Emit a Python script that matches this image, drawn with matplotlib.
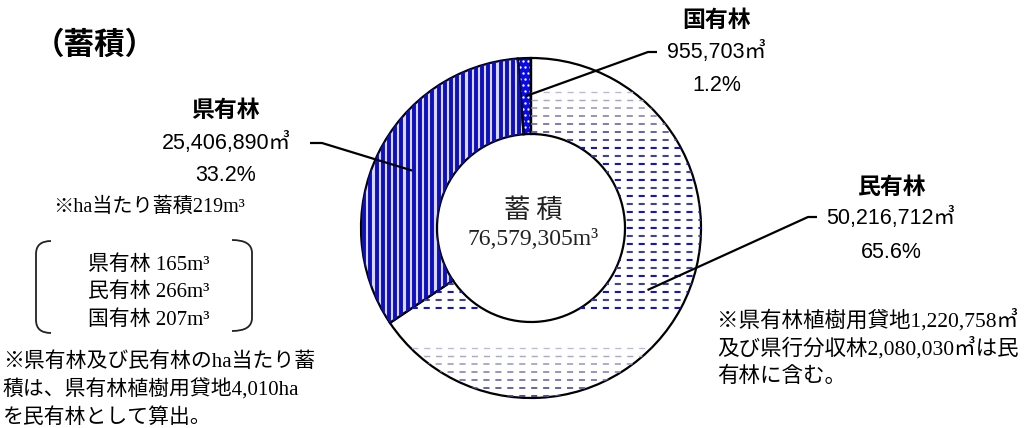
import numpy as np
import matplotlib
matplotlib.use("Agg")
import matplotlib.pyplot as plt
from matplotlib.path import Path
from matplotlib.patches import PathPatch

# ---------------- data ----------------
categories = ['民有林', '県有林', '国有林']
volumes = [50216712, 25406890, 955703]
volume_labels = ['50,216,712㎥', '25,406,890㎥', '955,703㎥']
share_labels = ['65.6%', '33.2%', '1.2%']
total_label = '76,579,305m³'
center_title = '蓄 積'
chart_title = '（蓄積）'
avg_note = '※ha当たり蓄積219m³'
per_ha_names = ['県有林', '民有林', '国有林']
per_ha_values = [165, 266, 207]
left_note = ['※県有林及び民有林のha当たり蓄', '積は、県有林植樹用貸地4,010ha', 'を民有林として算出。']
right_note = ['※県有林植樹用貸地1,220,758㎥', '及び県行分収林2,080,030㎥は民', '有林に含む。']

W, H = 1026, 428
plt.rcParams['lines.scale_dashes'] = False

fig = plt.figure(figsize=(W / 100, H / 100), dpi=100)
ax = fig.add_axes([0, 0, 1, 1])


def Y(ypx):
    return H - ypx


CX, CY = 531, Y(228)
R_OUT, R_IN = 170, 94

JP = ['Noto Sans CJK JP']
SANS = ['Liberation Sans', 'Noto Sans CJK JP']
SERIF = ['Liberation Serif', 'Noto Sans CJK JP']

face = ['white', '#d8d8ff', '#0a0ae6']
wedges, _ = ax.pie(volumes, startangle=90, counterclock=False, center=(CX, CY),
                   radius=R_OUT, colors=face,
                   wedgeprops=dict(width=R_OUT - R_IN, linewidth=0))

# ---- texture: 民有林 rows of dashes ----
w_min = wedges[0]
for ypx in np.arange(60, 400, 8.0):
    p = (ypx - 85) % 257
    if p >= 228:
        continue
    if p < 60:
        t = p / 60.0
        c0 = np.array([0.78, 0.78, 0.92])
        c1 = np.array([0.25, 0.25, 0.62])
        col = c0 * (1 - t) + c1 * t
        lw = 0.9 + 0.6 * t
    else:
        col = '#1414c8' if int(ypx / 8) % 2 == 0 else '#40409a'
        lw = 1.5
    ln, = ax.plot([352, 712], [Y(ypx), Y(ypx)], color=col, lw=lw,
                  linestyle=(0, (4.4, 4.2)), solid_capstyle='butt',
                  dash_capstyle='butt')
    ln.set_clip_path(w_min)

# ---- texture: 県有林 vertical stripes ----
w_ken = wedges[1]
for xpx in np.arange(358, 540, 6.2):
    ln, = ax.plot([xpx, xpx], [Y(55), Y(400)], color='#0f0fbe', lw=2.8,
                  solid_capstyle='butt')
    ln.set_clip_path(w_ken)

# ---- texture: 国有林 dots ----
w_kok = wedges[2]
gx, gy = np.meshgrid(np.arange(515, 540, 5.0), np.arange(55, 140, 6.0))
gx = gx + (np.arange(gx.shape[0])[:, None] % 2) * 2.5
sc = ax.scatter(gx.ravel(), Y(gy.ravel()), s=3, color='white', linewidths=0)
sc.set_clip_path(w_kok)

# ---- outlines ----
ax.pie(volumes, startangle=90, counterclock=False, center=(CX, CY),
       radius=R_OUT, colors=['none'] * 3,
       wedgeprops=dict(width=R_OUT - R_IN, linewidth=1.6, edgecolor='black',
                       fill=False))

ax.set_xlim(0, W)
ax.set_ylim(0, H)
ax.set_aspect('auto')
ax.axis('off')

# ---- leader lines (anchored at mid-angle of each wedge) ----
r_mid = (R_OUT + R_IN) / 2
elbows = {
    '民有林': [(808, 217), (817, 217)],
    '県有林': [(322, 143), (310, 143)],
    '国有林': [(648, 52), (657, 52)],
}
for wd, name in zip(wedges, categories):
    ang = np.deg2rad((wd.theta1 + wd.theta2) / 2)
    ax0, ay0 = CX + r_mid * np.cos(ang), CY + r_mid * np.sin(ang)
    xs = [ax0] + [e[0] for e in elbows[name]]
    ys = [ay0] + [Y(e[1]) for e in elbows[name]]
    ax.plot(xs, ys, color='black', lw=1.6, solid_capstyle='butt')

# ---- labels ----
label_pos = {
    '民有林': (891, 187, 218, 252),
    '県有林': (226, 110, 143, 175),
    '国有林': (717, 20, 52, 85),
}
for name, vl, sl in zip(categories, volume_labels, share_labels):
    x, y1, y2, y3 = label_pos[name]
    ax.text(x, Y(y1), name, family=JP, fontsize=16.5, fontweight='bold',
            ha='center', va='center')
    ax.text(x, Y(y2), vl, family=SANS, fontsize=15.5, ha='center', va='center')
    ax.text(x, Y(y3), sl, family=SANS, fontsize=15.5, ha='center', va='center')

ax.text(95, Y(45), chart_title, family=JP, fontsize=22, fontweight='bold',
        ha='center', va='center')

ax.text(CX + 2, Y(210), center_title, family=JP, fontsize=19, ha='center',
        va='center', color='#222222')
ax.text(CX + 2, Y(239), total_label, family=SERIF, fontsize=17, ha='center',
        va='center', color='#222222')

ax.text(53, Y(207), avg_note, family=SERIF, fontsize=14.5, ha='left', va='center')
for i, (n, v) in enumerate(zip(per_ha_names, per_ha_values)):
    ax.text(88, Y(265 + 27.5 * i), f'{n} {v}m³', family=SERIF, fontsize=15,
            ha='left', va='center')

for i, line in enumerate(left_note):
    ax.text(3, Y(362 + 28 * i), line, family=SERIF, fontsize=15, ha='left',
            va='center')
for i, line in enumerate(right_note):
    ax.text(717, Y(320 + 28.5 * i), line, family=SERIF, fontsize=15.5, ha='left',
            va='center')

# ---- brackets ----
def bracket(x_end, x_side, y_top, y_bot, r=13):
    verts = [(x_end, Y(y_top)), (x_side, Y(y_top)), (x_side, Y(y_top + r)),
             (x_side, Y(y_bot - r)), (x_side, Y(y_bot)), (x_end, Y(y_bot))]
    codes = [Path.MOVETO, Path.CURVE3, Path.CURVE3, Path.LINETO,
             Path.CURVE3, Path.CURVE3]
    ax.add_patch(PathPatch(Path(verts, codes), fill=False, lw=1.3,
                           edgecolor='#222222'))


bracket(51, 36, 241, 333)
bracket(232, 252, 240, 331)

fig.savefig('out.png', dpi=100)
